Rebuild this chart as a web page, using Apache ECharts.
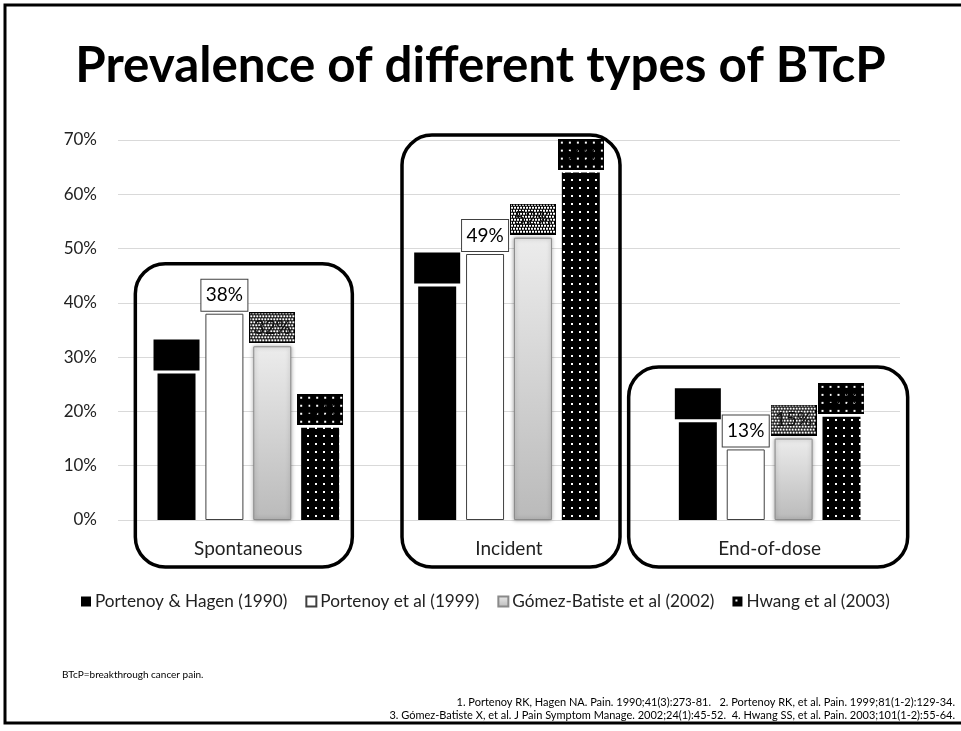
<!DOCTYPE html>
<html>
<head>
<meta charset="utf-8">
<script src="https://cdn.jsdelivr.net/npm/echarts@6/dist/echarts.min.js"></script>
<style>
  html, body { margin: 0; padding: 0; background: #fff; }
  #chart { width: 961px; height: 731px; }
</style>
</head>
<body>
<div id="chart"></div>
<script>
// Prevalence (%) of each BTcP type, by study
const categories = ['Spontaneous', 'Incident', 'End-of-dose'];
const seriesNames = ['Portenoy & Hagen (1990)', 'Portenoy et al (1999)', 'Gómez-Batiste et al (2002)', 'Hwang et al (2003)'];
const portenoyHagen1990 = [27, 43, 18];
const portenoy1999 = [38, 49, 13];
const gomezBatiste2002 = [32, 52, 15];
const hwang2003 = [17, 64, 19];
const yMin = 0, yMax = 70, yStep = 10;

const titleText = 'Prevalence of different types of BTcP';
const footnote = 'BTcP=breakthrough cancer pain.';
const references = [
  '1. Portenoy RK, Hagen NA. Pain. 1990;41(3):273-81.   2. Portenoy RK, et al. Pain. 1999;81(1-2):129-34.',
  '3. Gómez-Batiste X, et al. J Pain Symptom Manage. 2002;24(1):45-52.  4. Hwang SS, et al. Pain. 2003;101(1-2):55-64.'
];

const FONT = 'Lato';

function makeCanvas(w, h, draw) {
  const c = document.createElement('canvas');
  c.width = w; c.height = h;
  draw(c.getContext('2d'), w, h);
  return c;
}
// black with white dots
function dots(g, w, h) {
  g.fillStyle = '#000'; g.fillRect(0, 0, w, h);
  g.fillStyle = '#fff';
  for (let y = 3; y < h; y += 8) for (let x = 3; x < w; x += 8) g.fillRect(x, y, 2, 2);
}
// fine dark checker
function checker(g, w, h) {
  g.fillStyle = '#000'; g.fillRect(0, 0, w, h);
  g.fillStyle = '#fff';
  for (let y = 0, r = 0; y < h; y += 3, r++) for (let x = r % 2 ? 1 : 0; x < w; x += 3) g.fillRect(x, y, 2, 2);
  g.strokeStyle = '#000'; g.lineWidth = 1; g.strokeRect(0.5, 0.5, w - 1, h - 1);
}
const dotTile = makeCanvas(8, 8, dots);
const LBL_W = 36, LBL_H = 21, LBL_PAD = 5;
const dotLabelBg = makeCanvas(LBL_W + 2 * LBL_PAD, LBL_H + 2 * LBL_PAD, dots);
const checkerLabelBg = makeCanvas(LBL_W + 2 * LBL_PAD, LBL_H + 2 * LBL_PAD, checker);

function labelStyle(extra) {
  return Object.assign({
    show: true, position: 'top', distance: 3, formatter: '{c}%',
    fontFamily: FONT, fontSize: 19, color: '#000',
    width: LBL_W, height: LBL_H, lineHeight: LBL_H, padding: LBL_PAD
  }, extra);
}

const chart = echarts.init(document.getElementById('chart'), null, { renderer: 'canvas' });

const option = {
  animation: false,
  backgroundColor: '#fff',
  textStyle: { fontFamily: FONT },
  title: {
    text: titleText, left: 'center', top: 37,
    textStyle: { fontFamily: FONT, fontWeight: 'bold', fontSize: 49.3, color: '#000' }
  },
  grid: { left: 118, right: 61, top: 140, bottom: 211, containLabel: false },
  legend: {
    top: 588, left: 76, itemWidth: 10, itemHeight: 10, itemGap: 18,
    icon: 'rect',
    textStyle: { fontFamily: FONT, fontSize: 17.2, color: '#222', padding: [0, 0, 0, -1] },
    data: seriesNames
  },
  xAxis: {
    type: 'category', data: categories,
    axisLine: { show: false }, axisTick: { show: false },
    axisLabel: { fontFamily: FONT, fontSize: 19, color: '#222', margin: 19 }
  },
  yAxis: {
    type: 'value', min: yMin, max: yMax, interval: yStep,
    axisLabel: { formatter: '{value}%', fontFamily: FONT, fontSize: 17, color: '#222', margin: 21 },
    axisLine: { show: false }, axisTick: { show: false },
    splitLine: { lineStyle: { color: '#d9d9d9', width: 1 } }
  },
  series: [
    {
      name: seriesNames[0], type: 'bar', data: portenoyHagen1990, barWidth: 38, barGap: '26%',
      itemStyle: { color: '#000' },
      label: labelStyle({ backgroundColor: '#000', color: '#000' })
    },
    {
      name: seriesNames[1], type: 'bar', data: portenoy1999, barWidth: 38, barGap: '26%',
      itemStyle: { color: '#fff', borderColor: '#404040', borderWidth: 1 },
      label: labelStyle({ backgroundColor: '#fff', borderColor: '#404040', borderWidth: 1 })
    },
    {
      name: seriesNames[2], type: 'bar', data: gomezBatiste2002, barWidth: 38, barGap: '26%',
      itemStyle: {
        color: new echarts.graphic.LinearGradient(0, 0, 0, 1, [
          { offset: 0, color: '#ececec' }, { offset: 1, color: '#bababa' }
        ]),
        borderColor: '#8a8a8a', borderWidth: 1,
        shadowBlur: 4, shadowColor: 'rgba(0,0,0,0.35)'
      },
      label: labelStyle({ backgroundColor: { image: checkerLabelBg }, color: '#111' })
    },
    {
      name: seriesNames[3], type: 'bar', data: hwang2003, barWidth: 38, barGap: '26%',
      itemStyle: { color: { image: dotTile, repeat: 'repeat' } },
      label: labelStyle({ backgroundColor: { image: dotLabelBg }, color: '#000' })
    }
  ]
};
chart.setOption(option);

// Rounded frames around each category group (top level in axis units,
// horizontal extent as pixel offsets from the category centre).
const frameTop = [47.2, 70.9, 28.2];
const frameSide = [[-113, 104], [-107, 111], [-141, 138]];
const frameDrop = 47;

const graphics = [];
categories.forEach((c, i) => {
  const cx = chart.convertToPixel({ xAxisIndex: 0 }, c);
  const yTop = chart.convertToPixel({ yAxisIndex: 0 }, frameTop[i]);
  const y0 = chart.convertToPixel({ yAxisIndex: 0 }, 0);
  const x1 = cx + frameSide[i][0], x2 = cx + frameSide[i][1];
  graphics.push({
    type: 'rect', z: 10,
    shape: { x: x1, y: yTop, width: x2 - x1, height: y0 + frameDrop - yTop, r: 30 },
    style: { fill: null, stroke: '#000', lineWidth: 3.5 }
  });
});
// slide border
graphics.push({
  type: 'rect', z: 10,
  shape: { x: 5, y: 5, width: 970, height: 718 },
  style: { fill: null, stroke: '#000', lineWidth: 3 }
});
graphics.push({
  type: 'text', left: 62, top: 670, z: 10,
  style: { text: footnote, fontFamily: FONT, fontSize: 10, fill: '#000' }
});
references.forEach((line, i) => {
  graphics.push({
    type: 'text', right: 6, top: 697 + i * 12.5, z: 10,
    style: { text: line, fontFamily: FONT, fontSize: 11, fill: '#000' }
  });
});
chart.setOption({ graphic: graphics });
</script>
</body>
</html>
